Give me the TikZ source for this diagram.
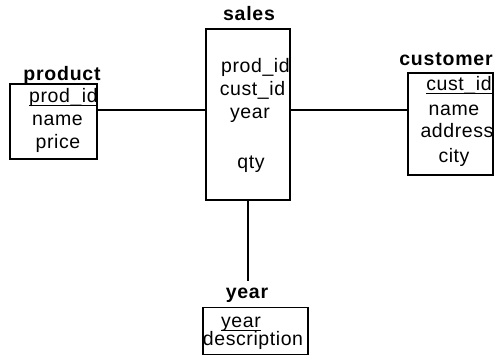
\documentclass[tikz,border=0pt]{standalone}
\usepackage{fontspec}
\setmainfont{Liberation Sans}
\newfontfamily\fldfont[LetterSpace=3]{Liberation Sans}
\newfontfamily\ttlfont[LetterSpace=4]{Liberation Sans Bold}
\begin{document}
\begin{tikzpicture}[x=1pt,y=-1pt,
  entbox/.style={draw,line width=1.5pt,minimum width=#1,inner sep=0pt},
  fld/.style={anchor=mid,inner sep=0pt,font=\fontsize{19.5}{22}\fldfont},
  ttl/.style={anchor=mid,inner sep=0pt,font=\fontsize{19.5}{22}\ttlfont},
  ul/.style={line width=1pt},
  conn/.style={line width=1.3pt}]
\useasboundingbox (0,0) rectangle (496,356);
% boxes
\node[entbox=87pt,minimum height=75pt] (product) at (53.5,121.5) {};
\node[entbox=84pt,minimum height=171pt] (sales) at (248,114.5) {};
\node[entbox=85pt,minimum height=102pt] (customer) at (450.5,124) {};
\node[entbox=105pt,minimum height=47pt] (yearbox) at (255.5,331) {};
% titles
\node[ttl] (tprod) at (62,78) {product};
\node[ttl] (tsales) at (249,18) {sales};
\node[ttl] (tcust) at (446,63) {customer};
\node[ttl] (tyear) at (247,296) {year};
% product fields
\node[fld] (p1) at (63.5,100) {prod\_id};
\node[fld] (p2) at (57.5,123) {name};
\node[fld] (p3) at (58,146) {price};
% sales fields
\node[fld] (s1) at (255.5,70) {prod\_id};
\node[fld] (s2) at (252.5,93) {cust\_id};
\node[fld] (s3) at (250,116) {year};
\node[fld] (s4) at (251,166) {qty};
% customer fields
\node[fld] (c1) at (459,88) {cust\_id};
\node[fld] (c2) at (454,113) {name};
\node[fld] (c3) at (457,135) {address};
\node[fld] (c4) at (454,160) {city};
% year fields
\node[fld] (y1) at (241,325) {year};
\node[fld] (y2) at (253,343) {description};
% underlines of keys
\draw[ul] ([yshift=-2.5pt]p1.base west) -- ([yshift=-2.5pt]p1.base east);
\draw[ul] ([yshift=-2.5pt]c1.base west) -- ([yshift=-2.5pt]c1.base east);
\draw[ul] ([yshift=-2.5pt]y1.base west) -- ([yshift=-2.5pt]y1.base east);
% connectors
\coordinate (lrow) at (0,110);
\coordinate (yend) at (248,281);
\draw[conn] (product.east |- lrow) -- (sales.west |- lrow);
\draw[conn] (sales.east |- lrow) -- (customer.west |- lrow);
\draw[conn] (sales.south) -- (yend);
\end{tikzpicture}
\end{document}
